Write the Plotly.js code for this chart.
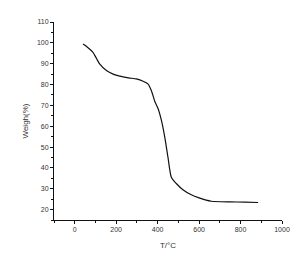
<!DOCTYPE html>
<html><head><meta charset="utf-8">
<script src="https://cdn.plot.ly/plotly-3.0.1.min.js"></script>
<style>html,body{margin:0;padding:0;background:#fff}#c{width:300px;height:268px}</style>
</head><body><div id="c"></div>
<script>
const temperature = [40, 60, 88, 105, 120, 153, 185, 217, 260, 297, 330, 353, 370, 386, 402, 418, 434, 450, 466, 490, 522, 560, 600, 659, 750, 820, 885];
const weight = [99.4, 98.0, 95.4, 92.5, 89.9, 86.7, 85.0, 84.0, 83.2, 82.7, 81.6, 80.3, 77.0, 72.0, 68.5, 62.9, 55.0, 45.0, 35.5, 32.5, 29.5, 27.2, 25.6, 24.0, 23.7, 23.6, 23.4];
const xTicks = [0, 200, 400, 600, 800, 1000];
const yTicks = [20, 30, 40, 50, 60, 70, 80, 90, 100, 110];

Plotly.newPlot('c', [{
  x: temperature, y: weight, type: 'scatter', mode: 'lines',
  line: {color: '#111', width: 1.2, shape: 'spline', smoothing: 0.6},
  hoverinfo: 'skip'
}], {
  width: 300, height: 268,
  margin: {l: 54, r: 18, t: 22, b: 48},
  paper_bgcolor: '#fff', plot_bgcolor: '#fff',
  showlegend: false,
  font: {family: 'Liberation Sans, Arial, sans-serif', size: 7, color: '#333'},
  xaxis: {
    range: [-100, 1000], tickvals: xTicks, ticktext: xTicks.map(String),
    showgrid: false, zeroline: false, showline: true, linecolor: '#111', linewidth: 1,
    ticks: 'outside', ticklen: 3, tickcolor: '#111', tickwidth: 1,
    minor: {dtick: 100, tick0: 0, ticks: 'outside', ticklen: 2, tickcolor: '#111'},
    title: {text: 'T/°C', font: {size: 8, color: '#333'}, standoff: 9}
  },
  yaxis: {
    range: [15, 110], tickvals: yTicks, ticktext: yTicks.map(String),
    showgrid: false, zeroline: false, showline: true, linecolor: '#111', linewidth: 1,
    ticks: 'outside', ticklen: 3, tickcolor: '#111', tickwidth: 1,
    minor: {dtick: 5, tick0: 0, ticks: 'outside', ticklen: 2, tickcolor: '#111'},
    title: {text: 'Weigh(%)', font: {size: 8, color: '#333'}, standoff: 7}
  }
}, {displayModeBar: false, staticPlot: true});
</script></body></html>
